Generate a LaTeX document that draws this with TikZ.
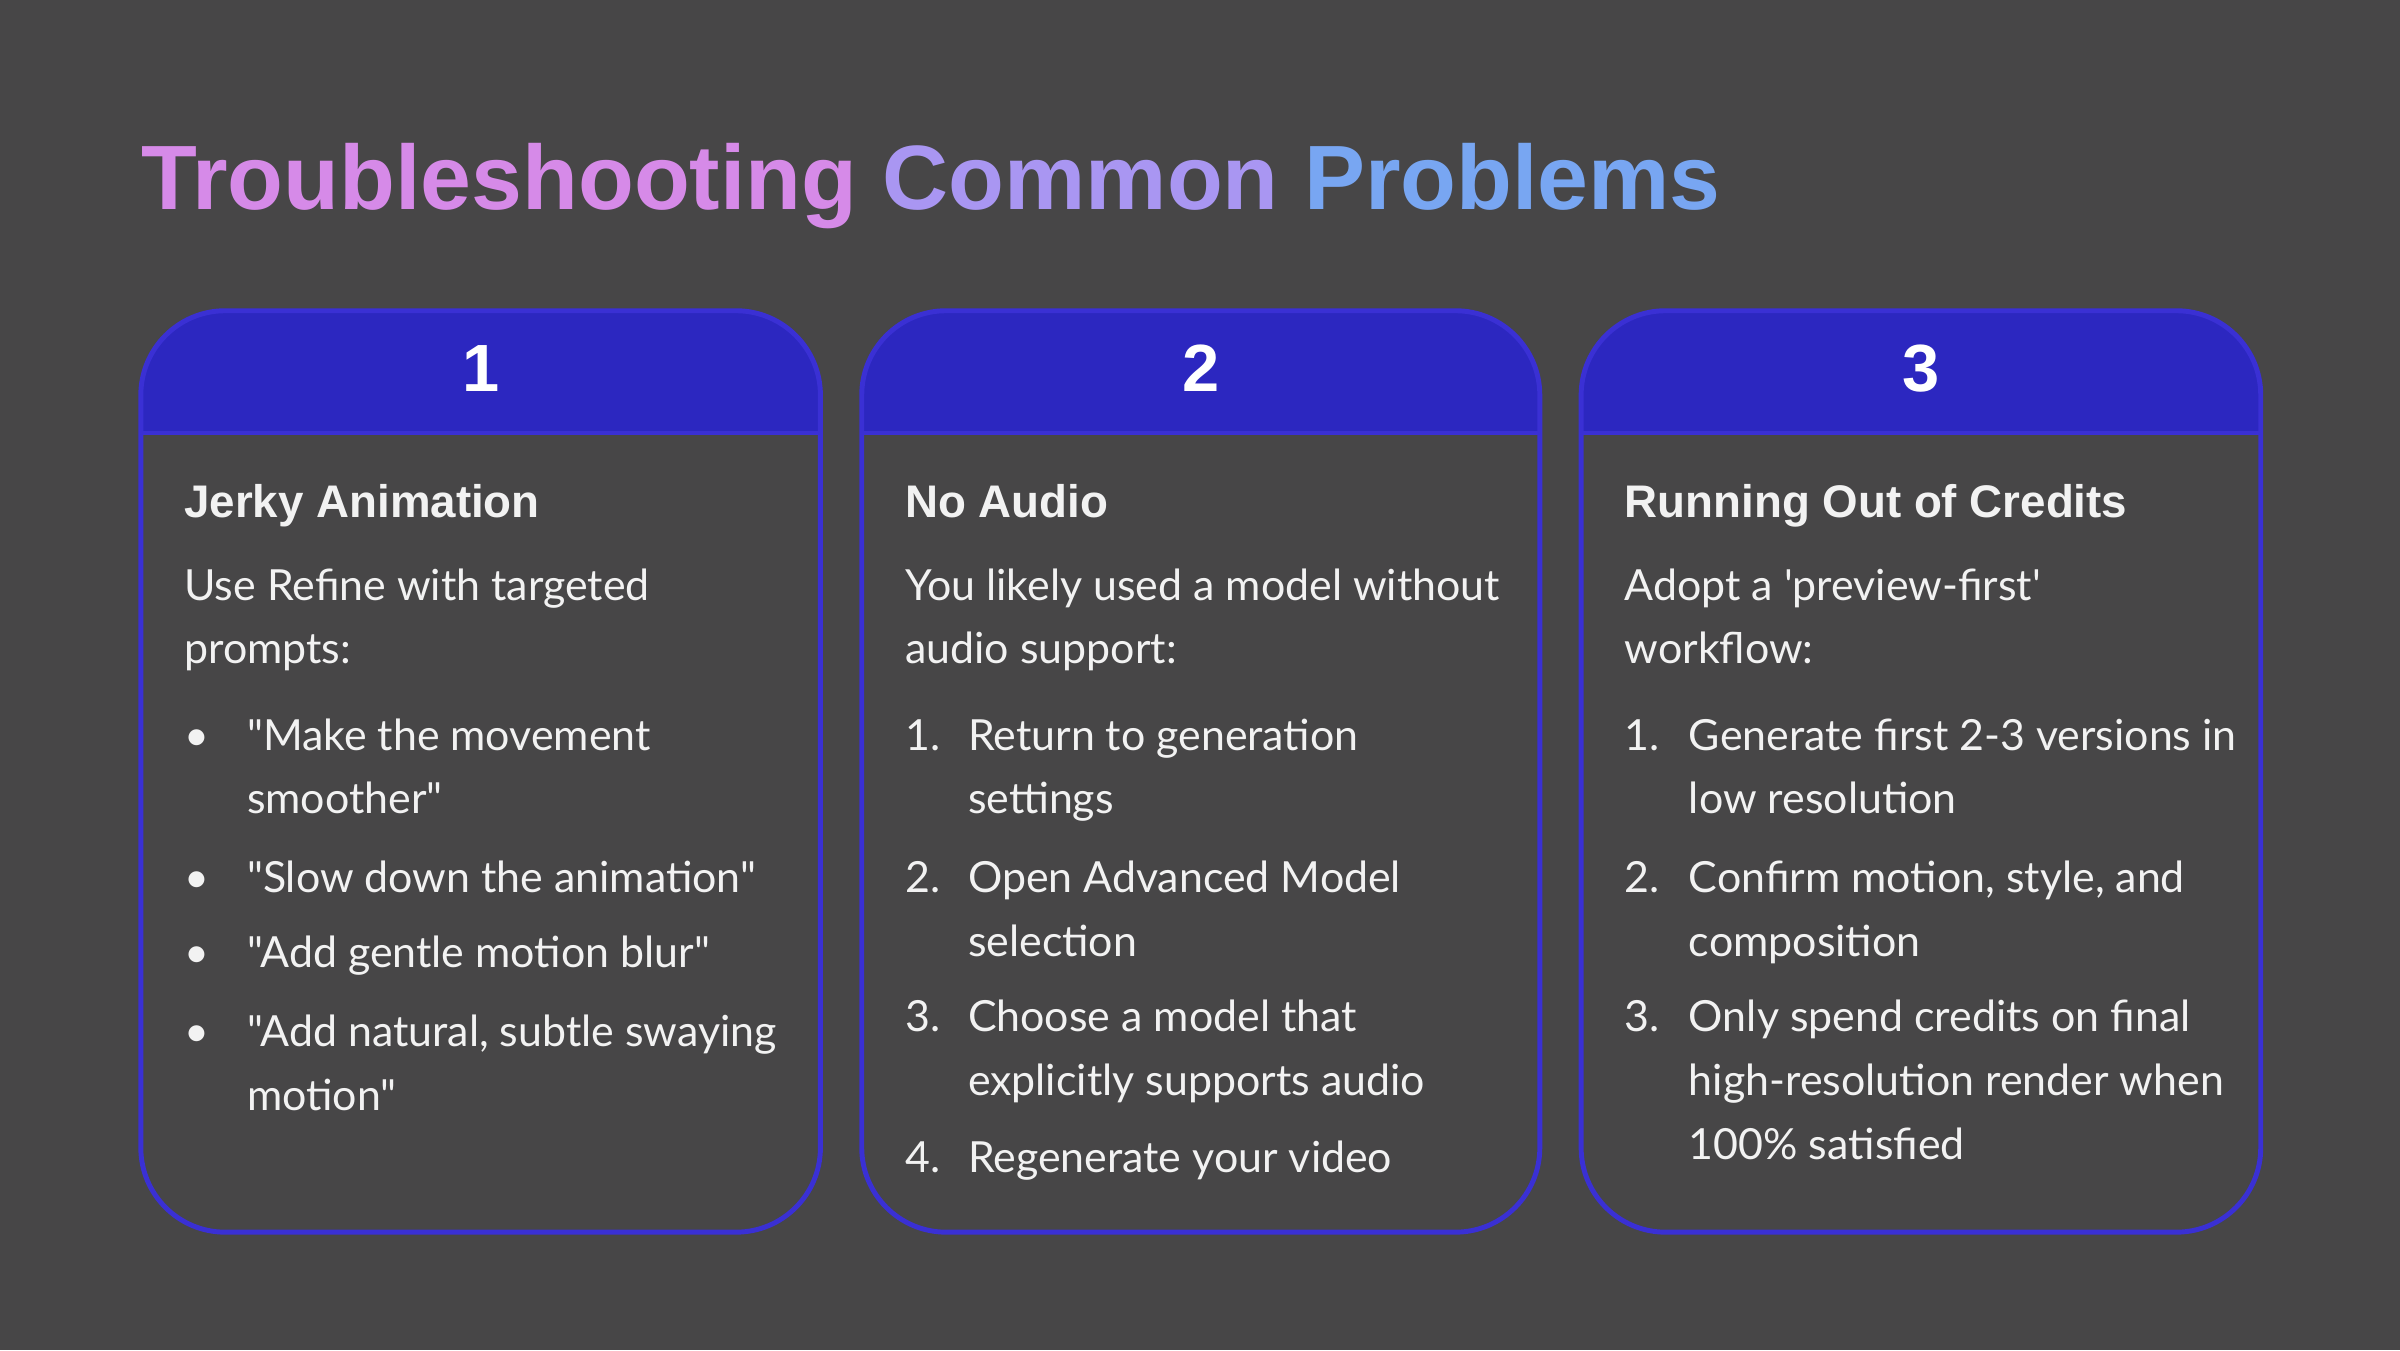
\documentclass[tikz,border=0pt]{standalone}
\usepackage{fontspec}
\newfontfamily\bodyfont{Lato}
\newfontfamily\headfont{Liberation Sans}
\definecolor{bgcol}{HTML}{474647}
\definecolor{hdrcol}{HTML}{2C27C0}
\definecolor{edgecol}{HTML}{3A30D4}
\definecolor{txtcol}{HTML}{F2F2F2}
\definecolor{tone}{HTML}{D68AE8}
\definecolor{ttwo}{HTML}{A996F2}
\definecolor{tthree}{HTML}{78A6F2}
\newcommand\lines[1]{\begin{tabular}[t]{@{}l@{}}#1\end{tabular}}

\tikzset{
  body/.style={anchor=base west, inner sep=0, align=left, text=txtcol,
    font=\bodyfont\fontsize{12.2}{18.2}\selectfont},
  cardhead/.style={anchor=base west, inner sep=0, text=txtcol,
    font=\headfont\bfseries\fontsize{13}{16}\selectfont},
  cardnum/.style={anchor=base, inner sep=0, text=white,
    font=\headfont\bfseries\fontsize{19}{22}\selectfont},
}

\begin{document}
\begin{tikzpicture}[x=0.0153061cm, y=-0.0153061cm]
  \fill[bgcol] (0,0) rectangle (1568,882);
  \useasboundingbox (0,0) rectangle (1568,882);
  % title
  \node[anchor=base west, inner sep=0, font=\headfont\bfseries\fontsize{26}{30}\selectfont] (title) at (92,137)
    {\color{tone}Troubleshooting \color{ttwo}Common \color{tthree}Problems};
  % cards
  \foreach \n/\xa/\xb in {1/92/536, 2/563/1006, 3/1033/1477} {
    \begin{scope}
      \clip[rounded corners=24] (\xa,203) rectangle (\xb,805);
      \fill[hdrcol] (\xa,203) rectangle (\xb,283);
    \end{scope}
    \draw[edgecol, line width=1.2pt] (\xa,283) -- (\xb,283);
    \draw[edgecol, line width=1.4pt, rounded corners=24] (\xa,203) rectangle (\xb,805);
    \node[cardnum] (num\n) at ({(\xa+\xb)/2},256) {\n};
  }
  % card 1
  \node[cardhead] (head1) at (120,338) {Jerky Animation};
  \node[body] (intro1) at (120,392) {\lines{Use Refine with targeted\\prompts:}};
  \foreach \y/\t [count=\i] in {490/{"Make the movement\\smoother"}, 583/{"Slow down the animation"},
      632/{"Add gentle motion blur"}, 684/{"Add natural, subtle swaying\\motion"}} {
    \node[body] (dot\i) at (120,\y) {\textbullet};
    \node[body] (item1\i) at (161,\y) {\lines{\t}};
  }
  % card 2
  \node[cardhead] (head2) at (591,338) {No Audio};
  \node[body] (intro2) at (591,392) {\lines{You likely used a model without\\audio support:}};
  \foreach \y/\t [count=\i] in {490/{Return to generation\\settings}, 583/{Open Advanced Model\\selection},
      674/{Choose a model that\\explicitly supports audio}, 766/{Regenerate your video}} {
    \node[body] (numa\i) at (591,\y) {\i.};
    \node[body] (item2\i) at (632,\y) {\lines{\t}};
  }
  % card 3
  \node[cardhead] (head3) at (1061,338) {Running Out of Credits};
  \node[body] (intro3) at (1061,392) {\lines{Adopt a 'preview-first'\\workflow:}};
  \foreach \y/\t [count=\i] in {490/{Generate first 2-3 versions in\\low resolution}, 583/{Confirm motion, style, and\\composition},
      674/{Only spend credits on final\\high-resolution render when\\100\% satisfied}} {
    \node[body] (numb\i) at (1061,\y) {\i.};
    \node[body] (item3\i) at (1103,\y) {\lines{\t}};
  }
\end{tikzpicture}
\end{document}
